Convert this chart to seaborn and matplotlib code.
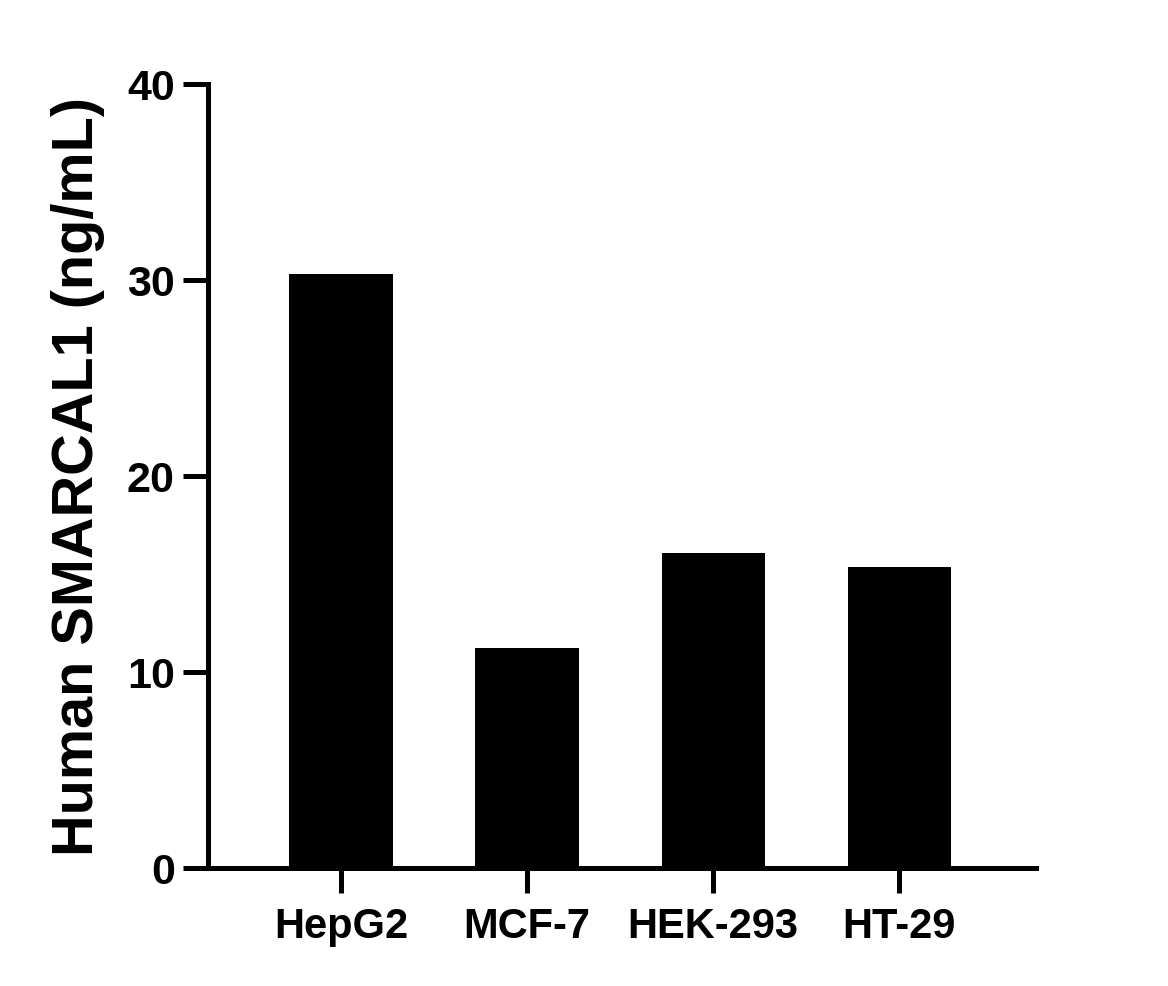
import matplotlib
matplotlib.use("Agg")
import matplotlib.pyplot as plt
import seaborn as sns
import pandas as pd

categories = ["HepG2", "MCF-7", "HEK-293", "HT-29"]
values = [30.3, 11.2, 16.05, 15.35]
y_ticks = [0, 10, 20, 30, 40]

sns.set_theme(style="ticks")
plt.rcParams['font.family'] = ['Liberation Sans', 'DejaVu Sans']
plt.rcParams['font.weight'] = 'bold'
plt.rcParams['text.color'] = 'black'
plt.rcParams['axes.labelcolor'] = 'black'
plt.rcParams['xtick.color'] = 'black'
plt.rcParams['ytick.color'] = 'black'

df = pd.DataFrame({"cell": categories, "val": values})

fig = plt.figure(figsize=(11.68, 9.86), dpi=100)
ax = fig.add_axes([208/1168, 1 - 868/986, (1036 - 208)/1168, (868 - 84)/986])
sns.barplot(data=df, x="cell", y="val", color="black", width=0.555,
            saturation=1, ax=ax, edgecolor="black", linewidth=0)
ax.set_xlim(-0.715, 3.735)
ax.set_ylim(0, 40)
ax.set_yticks(y_ticks)
ax.set_xlabel("")
ax.set_ylabel("Human SMARCAL1 (ng/mL)", fontsize=41.5, fontweight="bold",
              labelpad=16, color="black")
for s in ["top", "right"]:
    ax.spines[s].set_visible(False)
for s in ["left", "bottom"]:
    ax.spines[s].set_linewidth(3.6)
    ax.spines[s].set_color("black")
ax.tick_params(axis="y", length=18, width=3.6, labelsize=31, pad=6,
               color="black", labelcolor="black")
ax.tick_params(axis="x", length=18, width=3.6, labelsize=30, pad=10,
               color="black", labelcolor="black")
for lab in ax.get_xticklabels() + ax.get_yticklabels():
    lab.set_fontweight("bold")
fig.savefig("out.png", dpi=100)
